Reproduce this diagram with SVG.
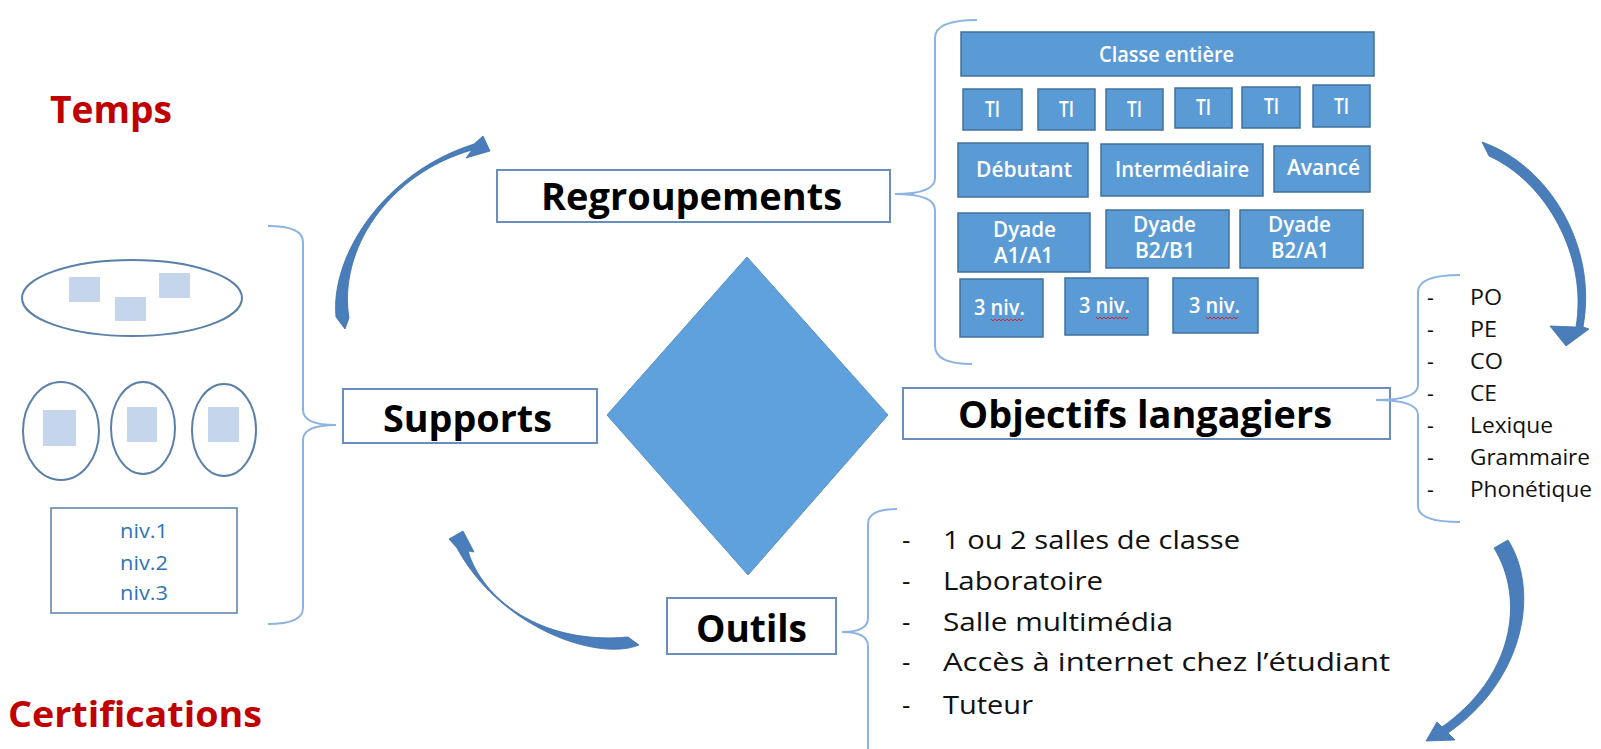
<svg xmlns="http://www.w3.org/2000/svg" width="1601" height="749" viewBox="0 0 1601 749">
<style>
text{font-family:"Open Sans","Liberation Sans",sans-serif}
.red{font-weight:bold;fill:#C00000}
.lbl{font-weight:bold;fill:#000;font-size:37px}
.wbox{fill:#fff;stroke:#6C8EBF;stroke-width:2}
.bbox{fill:#5B9BD5;stroke:#41719C;stroke-width:1.5}
.wt{fill:#fff;font-size:21px;font-weight:600}
.lst{fill:#111;font-size:26px}
.lst2{fill:#111;font-size:21px}
.brace{fill:none;stroke:#8DB3E2;stroke-width:2}
.ell{fill:#fff;stroke:#5A7FA8;stroke-width:2}
.sq{fill:#C5D6EC}
.niv{fill:#2E75B6;font-size:20px}
.arr{fill:#4A7EBB;stroke:#3E6FA8;stroke-width:0.8}
.wavy{fill:none;stroke:#E02020;stroke-width:1}
</style>

<g id="temps"><text class="red" x="50" y="123" font-size="37" textLength="122" lengthAdjust="spacingAndGlyphs">Temps</text></g>
<g id="certifications"><text class="red" x="8" y="727" font-size="35" textLength="254" lengthAdjust="spacingAndGlyphs">Certifications</text></g>

<g id="supports-illustration">
  <ellipse class="ell" cx="132" cy="298" rx="110" ry="38"/>
  <rect class="sq" x="69" y="277" width="31" height="25"/>
  <rect class="sq" x="115" y="297" width="31" height="24"/>
  <rect class="sq" x="159" y="273" width="31" height="25"/>
  <ellipse class="ell" cx="61" cy="431" rx="38" ry="49"/>
  <rect class="sq" x="43" y="410" width="33" height="36"/>
  <ellipse class="ell" cx="143" cy="428" rx="32" ry="46"/>
  <rect class="sq" x="127" y="407" width="30" height="35"/>
  <ellipse class="ell" cx="224" cy="430" rx="32" ry="46"/>
  <rect class="sq" x="208" y="407" width="31" height="35"/>
  <rect x="51" y="508" width="186" height="105" fill="#fff" stroke="#5A7FA8" stroke-width="1.5"/>
  <text class="niv" x="120" y="538" textLength="48" lengthAdjust="spacingAndGlyphs">niv.1</text>
  <text class="niv" x="120" y="570" textLength="48" lengthAdjust="spacingAndGlyphs">niv.2</text>
  <text class="niv" x="120" y="600" textLength="48" lengthAdjust="spacingAndGlyphs">niv.3</text>
</g>

<g id="diamond"><polygon points="747,257 888,415 748,575 607,415" fill="#5FA1DC" stroke="#5A8FC5" stroke-width="1"/></g>

<g id="regroupements">
  <rect class="wbox" x="497" y="170" width="393" height="52"/>
  <text class="lbl" x="541" y="210" textLength="301" lengthAdjust="spacingAndGlyphs">Regroupements</text>
</g>
<g id="supports">
  <rect class="wbox" x="343" y="389" width="254" height="54"/>
  <text class="lbl" x="383" y="432" textLength="169" lengthAdjust="spacingAndGlyphs">Supports</text>
</g>
<g id="objectifs">
  <rect class="wbox" x="903" y="388" width="487" height="51"/>
  <text class="lbl" x="958" y="428" textLength="374" lengthAdjust="spacingAndGlyphs">Objectifs langagiers</text>
</g>
<g id="outils">
  <rect class="wbox" x="667" y="598" width="169" height="56"/>
  <text class="lbl" x="696" y="642" font-size="38" textLength="111" lengthAdjust="spacingAndGlyphs">Outils</text>
</g>

<g id="groupes">
  <rect class="bbox" x="961" y="32" width="413" height="44"/>
  <text class="wt" x="1099" y="62" textLength="135" lengthAdjust="spacingAndGlyphs">Classe entière</text>
  <rect class="bbox" x="963" y="89" width="59" height="41"/>
  <text class="wt" x="985" y="117" textLength="15" lengthAdjust="spacingAndGlyphs">TI</text>
  <rect class="bbox" x="1038" y="89" width="57" height="41"/>
  <text class="wt" x="1059" y="117" textLength="15" lengthAdjust="spacingAndGlyphs">TI</text>
  <rect class="bbox" x="1106" y="89" width="57" height="41"/>
  <text class="wt" x="1127" y="117" textLength="15" lengthAdjust="spacingAndGlyphs">TI</text>
  <rect class="bbox" x="1175" y="88" width="57" height="40"/>
  <text class="wt" x="1196" y="115" textLength="15" lengthAdjust="spacingAndGlyphs">TI</text>
  <rect class="bbox" x="1242" y="87" width="58" height="41"/>
  <text class="wt" x="1264" y="114" textLength="15" lengthAdjust="spacingAndGlyphs">TI</text>
  <rect class="bbox" x="1313" y="85" width="57" height="42"/>
  <text class="wt" x="1334" y="114" textLength="15" lengthAdjust="spacingAndGlyphs">TI</text>
  <rect class="bbox" x="958" y="143" width="130" height="54"/>
  <text class="wt" x="976" y="177" textLength="96" lengthAdjust="spacingAndGlyphs">Débutant</text>
  <rect class="bbox" x="1101" y="144" width="162" height="52"/>
  <text class="wt" x="1115" y="177" textLength="134" lengthAdjust="spacingAndGlyphs">Intermédiaire</text>
  <rect class="bbox" x="1274" y="146" width="96" height="46"/>
  <text class="wt" x="1287" y="175" textLength="73" lengthAdjust="spacingAndGlyphs">Avancé</text>
  <rect class="bbox" x="958" y="213" width="132" height="59"/>
  <text class="wt" x="993" y="237" textLength="63" lengthAdjust="spacingAndGlyphs">Dyade</text>
  <text class="wt" x="994" y="263" textLength="59" lengthAdjust="spacingAndGlyphs">A1/A1</text>
  <rect class="bbox" x="1106" y="210" width="123" height="58"/>
  <text class="wt" x="1133" y="232" textLength="63" lengthAdjust="spacingAndGlyphs">Dyade</text>
  <text class="wt" x="1135" y="258" textLength="60" lengthAdjust="spacingAndGlyphs">B2/B1</text>
  <rect class="bbox" x="1240" y="210" width="123" height="58"/>
  <text class="wt" x="1268" y="232" textLength="63" lengthAdjust="spacingAndGlyphs">Dyade</text>
  <text class="wt" x="1271" y="258" textLength="58" lengthAdjust="spacingAndGlyphs">B2/A1</text>
  <rect class="bbox" x="960" y="279" width="83" height="58"/>
  <text class="wt" x="974" y="315" textLength="51" lengthAdjust="spacingAndGlyphs">3 niv.</text>
  <path class="wavy" d="M991,319 l2,2 l2,-2 l2,2 l2,-2 l2,2 l2,-2 l2,2 l2,-2 l2,2 l2,-2 l2,2 l2,-2 l2,2 l2,-2 l2,2 l2,-2"/>
  <rect class="bbox" x="1065" y="278" width="83" height="57"/>
  <text class="wt" x="1079" y="313" textLength="51" lengthAdjust="spacingAndGlyphs">3 niv.</text>
  <path class="wavy" d="M1096,317 l2,2 l2,-2 l2,2 l2,-2 l2,2 l2,-2 l2,2 l2,-2 l2,2 l2,-2 l2,2 l2,-2 l2,2 l2,-2 l2,2 l2,-2"/>
  <rect class="bbox" x="1173" y="278" width="85" height="55"/>
  <text class="wt" x="1189" y="313" textLength="51" lengthAdjust="spacingAndGlyphs">3 niv.</text>
  <path class="wavy" d="M1206,317 l2,2 l2,-2 l2,2 l2,-2 l2,2 l2,-2 l2,2 l2,-2 l2,2 l2,-2 l2,2 l2,-2 l2,2 l2,-2 l2,2 l2,-2"/>
</g>

<g id="objectifs-liste">
  <text class="lst2" x="1427" y="305">-</text><text class="lst2" x="1470" y="305" textLength="32" lengthAdjust="spacingAndGlyphs">PO</text>
  <text class="lst2" x="1427" y="337">-</text><text class="lst2" x="1470" y="337" textLength="27" lengthAdjust="spacingAndGlyphs">PE</text>
  <text class="lst2" x="1427" y="369">-</text><text class="lst2" x="1470" y="369" textLength="33" lengthAdjust="spacingAndGlyphs">CO</text>
  <text class="lst2" x="1427" y="401">-</text><text class="lst2" x="1470" y="401" textLength="27" lengthAdjust="spacingAndGlyphs">CE</text>
  <text class="lst2" x="1427" y="433">-</text><text class="lst2" x="1470" y="433" textLength="83" lengthAdjust="spacingAndGlyphs">Lexique</text>
  <text class="lst2" x="1427" y="465">-</text><text class="lst2" x="1470" y="465" textLength="120" lengthAdjust="spacingAndGlyphs">Grammaire</text>
  <text class="lst2" x="1427" y="497">-</text><text class="lst2" x="1470" y="497" textLength="122" lengthAdjust="spacingAndGlyphs">Phonétique</text>
</g>

<g id="outils-liste">
  <text class="lst" x="902" y="549">-</text><text class="lst" x="943" y="549" textLength="297" lengthAdjust="spacingAndGlyphs">1 ou 2 salles de classe</text>
  <text class="lst" x="902" y="590">-</text><text class="lst" x="943" y="590" textLength="160" lengthAdjust="spacingAndGlyphs">Laboratoire</text>
  <text class="lst" x="902" y="631">-</text><text class="lst" x="943" y="631" textLength="230" lengthAdjust="spacingAndGlyphs">Salle multimédia</text>
  <text class="lst" x="902" y="671">-</text><text class="lst" x="943" y="671" textLength="447" lengthAdjust="spacingAndGlyphs">Accès à internet chez l’étudiant</text>
  <text class="lst" x="902" y="714">-</text><text class="lst" x="943" y="714" textLength="90" lengthAdjust="spacingAndGlyphs">Tuteur</text>
</g>

<g id="connectors">
  <path class="brace" d="M268,226 Q303,226 303,242 L303,410 Q303,425 336,425 Q303,425 303,440 L303,608 Q303,624 268,624"/>
  <path class="brace" d="M977,20 Q935,20 935,38 L935,178 Q935,194 895,194 Q935,194 935,210 L935,346 Q935,364 972,364"/>
  <path class="brace" d="M1460,275 Q1418,275 1418,292 L1418,385 Q1418,400 1376,400 Q1418,400 1418,415 L1418,506 Q1418,522 1460,522"/>
  <path class="brace" d="M897,509 Q868,509 868,524 L868,618 Q868,632 842,632 Q868,632 868,646 L868,749"/>
  <path class="arr" d="M336,317 C330,255 385,172 474,144 L483,136 L490,151 L466,158 L472,150 C388,174 338,250 349,318 L345,329 Z"/>
  <path class="arr" d="M463,531 L474,552 L468,551 C482,598 540,645 628,637 L639,645 C598,662 500,628 457,548 L449,539 Z"/>
  <path class="arr" d="M1482,142 C1548,165 1598,245 1583,327 L1589,329 L1566,346 L1550,326 L1576,327 C1588,256 1546,182 1489,156 Z"/>
  <path class="arr" d="M1508,540 C1540,590 1525,680 1448,733 L1455,740 L1426,741 L1437,722 L1442,727 C1513,677 1526,600 1494,548 Z"/>
</g>
</svg>
